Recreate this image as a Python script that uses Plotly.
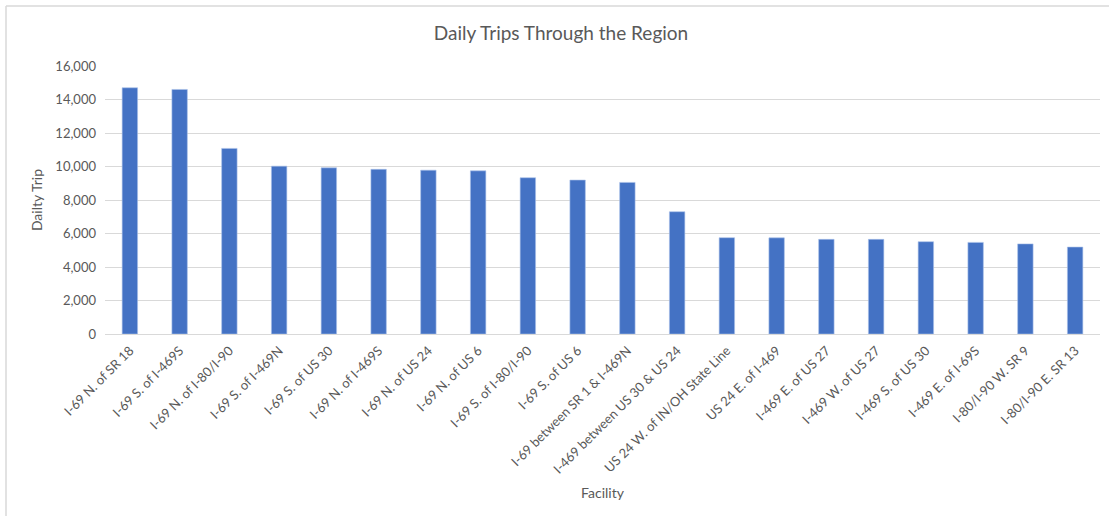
import plotly.graph_objects as go

facilities = [
    "I-69 N. of SR 18", "I-69 S. of I-469S", "I-69 N. of I-80/I-90", "I-69 S. of I-469N",
    "I-69 S. of US 30", "I-69 N. of I-469S", "I-69 N. of US 24", "I-69 N. of US 6",
    "I-69 S. of I-80/I-90", "I-69 S. of US 6", "I-69 between SR 1 & I-469N",
    "I-469 between US 30 & US 24", "US 24 W. of IN/OH State Line", "US 24 E. of I-469",
    "I-469 E. of US 27", "I-469 W. of US 27", "I-469 S. of US 30", "I-469 E. of I-69S",
    "I-80/I-90 W. SR 9", "I-80/I-90 E. SR 13",
]
daily_trips = [
    14700, 14600, 11080, 10020, 9920, 9830, 9780, 9740, 9330, 9190, 9050,
    7300, 5750, 5740, 5650, 5650, 5510, 5470, 5380, 5190,
]

font_family = "Lato, 'Open Sans', sans-serif"
grey = "#595959"

fig = go.Figure(go.Bar(
    x=facilities, y=daily_trips,
    marker=dict(color="#4472C4", line=dict(color="#a9c1ea", width=0.6)),
))

fig.update_layout(
    width=1109, height=516,
    margin=dict(l=105, r=9, t=66, b=182, autoexpand=False),
    paper_bgcolor="white", plot_bgcolor="white",
    bargap=0.69,
    showlegend=False,
    font=dict(family=font_family, color=grey, size=13),
    title=dict(text="Daily Trips Through the Region", x=561/1109, xanchor="center",
               y=1 - 33/516, yanchor="middle",
               font=dict(size=19, color=grey, family=font_family)),
    xaxis=dict(
        automargin=False,
        tickangle=-45, showgrid=False, showline=True, linecolor="#d9d9d9", linewidth=1,
        ticks="", ticklabelstandoff=3, tickfont=dict(size=13, color=grey),
        title=dict(text="Facility", font=dict(size=14, color=grey), standoff=12),
    ),
    yaxis=dict(
        automargin=False,
        range=[0, 16000], dtick=2000, tickformat=",", showgrid=True,
        gridcolor="#d9d9d9", gridwidth=1, zeroline=False, showline=False,
        ticks="", ticklabelstandoff=8, tickfont=dict(size=13, color=grey),
        title=dict(text="Dailty Trip", font=dict(size=14, color=grey), standoff=9),
    ),
    shapes=[
        dict(type="line", xref="paper", yref="paper",
             x0=(6 - 105) / 995, x1=(1109 - 105) / 995,
             y0=(334 - 6) / 268, y1=(334 - 6) / 268,
             line=dict(color="#d9d9d9", width=1.5)),
        dict(type="line", xref="paper", yref="paper",
             x0=(6 - 105) / 995, x1=(6 - 105) / 995,
             y0=(334 - 6) / 268, y1=(334 - 516) / 268,
             line=dict(color="#d9d9d9", width=1.5)),
    ],
)

fig.write_html("out.html", config={"displayModeBar": False},
               post_script="document.body.style.margin='0';document.body.style.overflow='hidden';")
